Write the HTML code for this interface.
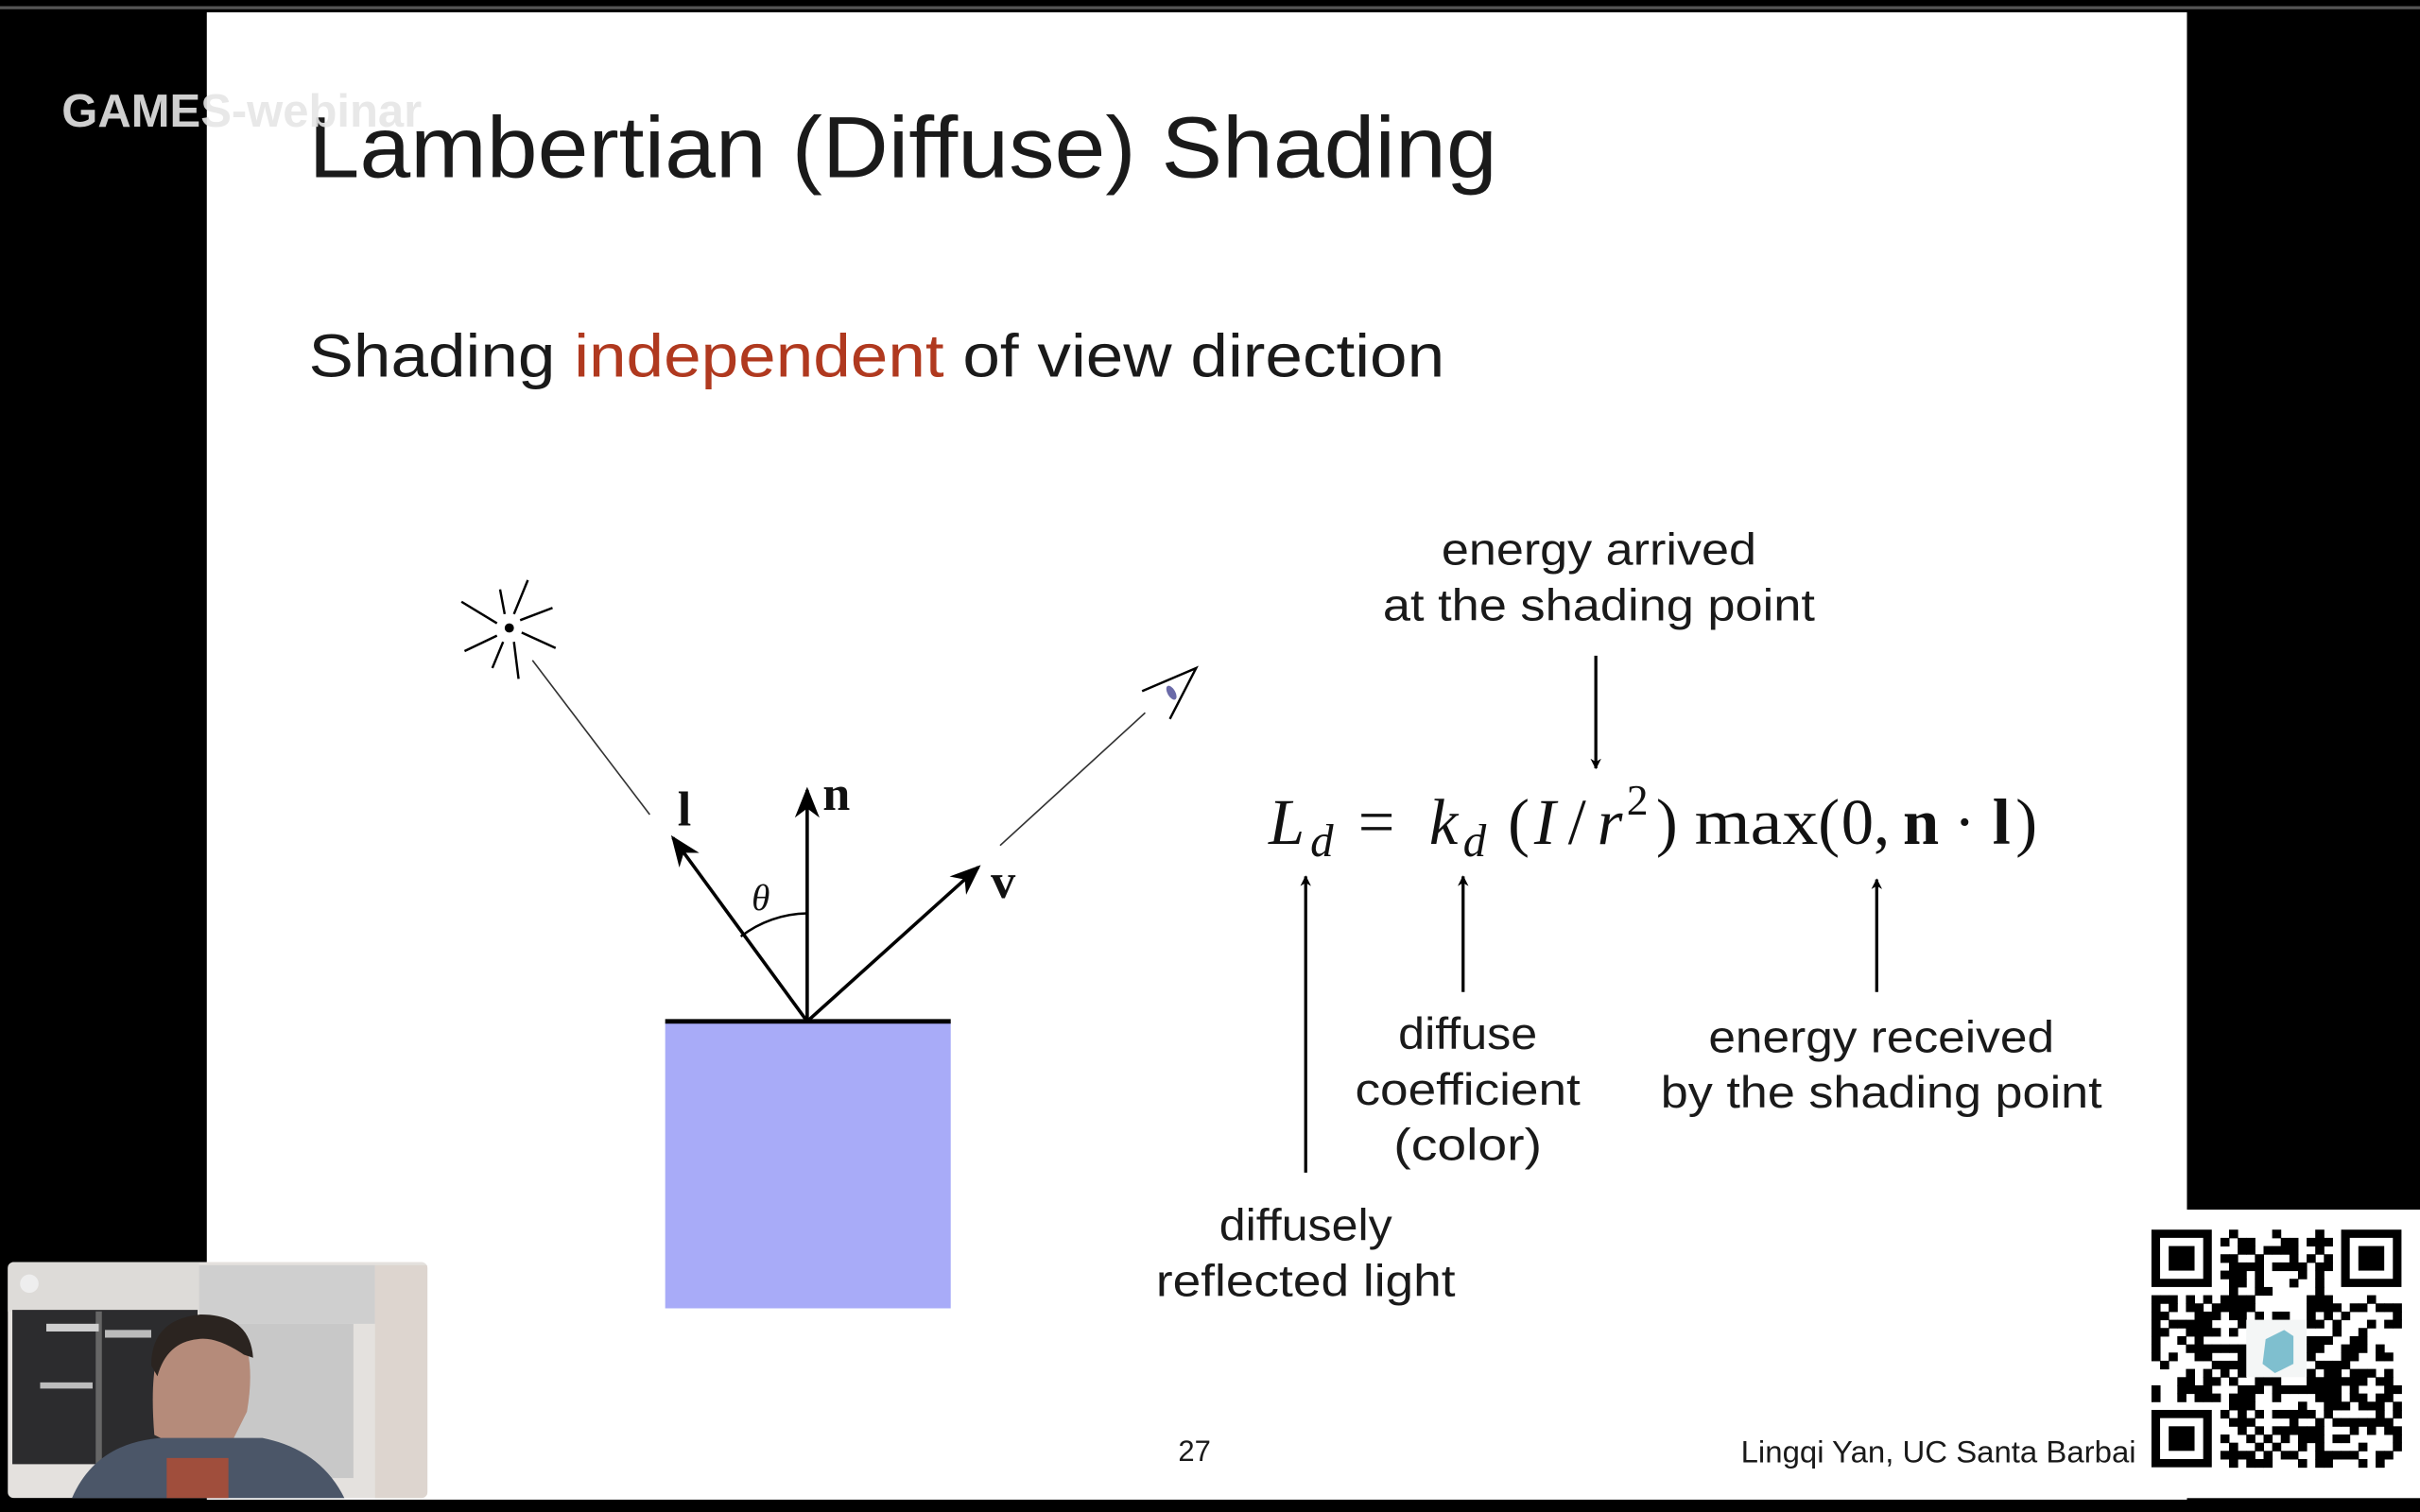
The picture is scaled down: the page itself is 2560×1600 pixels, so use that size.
<!DOCTYPE html>
<html><head><meta charset="utf-8">
<style>
html,body{margin:0;padding:0;background:#000;width:2560px;height:1600px;overflow:hidden}
svg{display:block}
.g{font-family:"Liberation Sans Narrow","Liberation Sans",sans-serif;fill:#1a1a1a}
.s{font-family:"Liberation Serif",serif;fill:#111}
</style></head><body>
<svg id="sv" width="2560" height="1600" viewBox="0 0 1568 980" preserveAspectRatio="none" xmlns="http://www.w3.org/2000/svg">
<defs>
<marker id="ah" viewBox="0 0 10 10" refX="9" refY="5" markerWidth="7" markerHeight="7" orient="auto" markerUnits="userSpaceOnUse">
<path d="M0,0 L10,5 L0,10 L3,5 z" fill="#000"/></marker>
<marker id="ah2" viewBox="0 0 10 10" refX="9" refY="5" markerWidth="20" markerHeight="20" orient="auto" markerUnits="userSpaceOnUse">
<path d="M0,1 L10,5 L0,9 L3,5 z" fill="#000"/></marker>
<clipPath id="cc"><rect x="5" y="818" width="272" height="153" rx="4"/></clipPath>
</defs>
<rect x="0" y="0" width="1568" height="980" fill="#000"/>
<rect x="0" y="4" width="1568" height="2" fill="#555"/>
<rect x="134" y="8" width="1283" height="964" fill="#fff"/>
<rect x="1390" y="784" width="178" height="187" fill="#fff"/>

<text class="g" x="200" y="115" font-size="56" textLength="770" lengthAdjust="spacingAndGlyphs">Lambertian (Diffuse) Shading</text>
<text class="g" x="200" y="244" font-size="39" textLength="736" lengthAdjust="spacingAndGlyphs">Shading <tspan fill="#b0391f">independent</tspan> of view direction</text>

<g stroke="#000" stroke-width="1.5">
<line x1="337" y1="402" x2="358" y2="394"/><line x1="338" y1="410" x2="360" y2="420"/>
<line x1="333" y1="398" x2="342" y2="376"/><line x1="327" y1="398" x2="324" y2="382"/>
<line x1="322" y1="404" x2="299" y2="390"/><line x1="322" y1="412" x2="301" y2="422"/>
<line x1="326" y1="416" x2="319" y2="433"/><line x1="333" y1="416" x2="336" y2="440"/>
</g>
<circle cx="330" cy="407" r="3" fill="#000"/>
<line x1="345" y1="428" x2="421" y2="528" stroke="#333" stroke-width="1"/>
<line x1="648" y1="548" x2="742" y2="462" stroke="#333" stroke-width="1"/>
<path d="M740,448 L775,433 L758,466" fill="none" stroke="#000" stroke-width="1.5"/>
<ellipse cx="759" cy="449" rx="2.5" ry="5" fill="#6a6aa8" transform="rotate(-30 759 449)"/>

<g stroke="#000" stroke-width="2.2" fill="none">
<line x1="523" y1="662" x2="436" y2="543" marker-end="url(#ah2)"/>
<line x1="523" y1="662" x2="523" y2="512" marker-end="url(#ah2)"/>
<line x1="523" y1="662" x2="634" y2="562" marker-end="url(#ah2)"/>
</g>
<path d="M480,607 A72,72 0 0 1 523,592" fill="none" stroke="#000" stroke-width="1.5"/>
<text class="s" x="439" y="535" font-size="32" font-weight="bold">l</text>
<text class="s" x="533" y="525" font-size="32" font-weight="bold">n</text>
<text class="s" x="642" y="582" font-size="32" font-weight="bold">v</text>
<text class="s" x="487" y="590" font-size="24" font-style="italic">θ</text>

<rect x="431" y="663" width="185" height="185" fill="#a8abf8"/>
<line x1="431" y1="662" x2="616" y2="662" stroke="#000" stroke-width="3"/>

<g class="s" font-size="42">
<text x="822" y="547" font-style="italic">L</text>
<text x="849" y="555" font-size="30" font-style="italic">d</text>
<text x="880" y="547">=</text>
<text x="926" y="547" font-style="italic">k</text>
<text x="948" y="555" font-size="30" font-style="italic">d</text>
<text x="977" y="547">(</text>
<text x="994" y="547" font-style="italic">I</text>
<text x="1016" y="547">/</text>
<text x="1035" y="547" font-style="italic">r</text>
<text x="1054" y="528" font-size="28">2</text>
<text x="1073" y="547">)</text>
<text x="1098" y="547" textLength="80" lengthAdjust="spacingAndGlyphs">max</text>
<text x="1178" y="547">(</text>
<text x="1193" y="547">0,</text>
<text x="1233" y="547" font-weight="bold">n</text>
<text x="1266" y="547">·</text>
<text x="1291" y="547" font-weight="bold">l</text>
<text x="1306" y="547">)</text>
</g>

<g stroke="#000" stroke-width="2">
<line x1="1034" y1="425" x2="1034" y2="498" marker-end="url(#ah)"/>
<line x1="846" y1="760" x2="846" y2="568" marker-end="url(#ah)"/>
<line x1="948" y1="643" x2="948" y2="568" marker-end="url(#ah)"/>
<line x1="1216" y1="643" x2="1216" y2="570" marker-end="url(#ah)"/>
</g>

<g class="g" font-size="29" text-anchor="middle">
<text x="1036" y="366" textLength="204" lengthAdjust="spacingAndGlyphs">energy arrived</text>
<text x="1036" y="402" textLength="280" lengthAdjust="spacingAndGlyphs">at the shading point</text>
<text x="951" y="680" textLength="90" lengthAdjust="spacingAndGlyphs">diffuse</text>
<text x="951" y="716" textLength="146" lengthAdjust="spacingAndGlyphs">coefficient</text>
<text x="951" y="752" textLength="96" lengthAdjust="spacingAndGlyphs">(color)</text>
<text x="1219" y="682" textLength="224" lengthAdjust="spacingAndGlyphs">energy received</text>
<text x="1219" y="718" textLength="286" lengthAdjust="spacingAndGlyphs">by the shading point</text>
<text x="846" y="804" textLength="112" lengthAdjust="spacingAndGlyphs">diffusely</text>
<text x="846" y="840" textLength="194" lengthAdjust="spacingAndGlyphs">reflected light</text>
</g>
<text class="g" x="774" y="947" font-size="19" text-anchor="middle">27</text>
<text class="g" x="1128" y="948" font-size="20" textLength="256" lengthAdjust="spacingAndGlyphs">Lingqi Yan, UC Santa Barbai</text>

<g id="qr"></g>

<!-- webcam -->
<g clip-path="url(#cc)">
<rect x="5" y="818" width="272" height="153" fill="#e4e1de"/>
<rect x="5" y="818" width="124" height="32" fill="#dddbd8"/>
<rect x="8" y="849" width="120" height="100" fill="#2c2c2e"/>
<rect x="62" y="850" width="4" height="100" fill="#666"/>
<rect x="30" y="858" width="34" height="5" fill="#cfcfcf"/>
<rect x="68" y="862" width="30" height="5" fill="#bbb"/>
<rect x="26" y="896" width="34" height="4" fill="#bdbdbd"/>
<rect x="129" y="820" width="114" height="38" fill="#cfcfcf"/>
<rect x="129" y="858" width="100" height="100" fill="#c8c8c8"/>
<rect x="243" y="820" width="34" height="151" fill="#ddd5cf"/>
<path d="M100,930 Q96,880 108,866 Q130,852 155,862 Q166,880 160,915 L150,935 L110,935 Z" fill="#b58b7a"/>
<path d="M98,885 Q98,855 130,852 Q162,852 164,880 L158,878 Q140,866 128,868 Q108,870 102,892 Z" fill="#2b2420"/>
<path d="M45,975 Q60,935 105,932 L170,932 Q210,940 225,975 Z" fill="#4b5668"/>
<rect x="108" y="945" width="40" height="30" fill="#a04e3c"/>
<circle cx="19" cy="832" r="6" fill="#eee"/>
</g>

<text x="40" y="82" font-family="Liberation Sans, sans-serif" font-weight="bold" font-size="30" fill="#e6e6e6" opacity="0.9">GAMES-webinar</text>
</svg>
<script>
(function(){
var g=document.getElementById('qr'),ns='http://www.w3.org/2000/svg';
var x0=1394,y0=797,n=29,w=162/29,h=154/29,s=12345;
function r(){s=(s*1103515245+12345)&0x7fffffff;return s/0x7fffffff;}
function R(x,y,ww,hh,c){var e=document.createElementNS(ns,'rect');e.setAttribute('x',x);e.setAttribute('y',y);e.setAttribute('width',ww);e.setAttribute('height',hh);e.setAttribute('fill',c);g.appendChild(e);}
function fin(i,j){R(x0+i*w,y0+j*h,7*w,7*h,'#000');R(x0+(i+1)*w,y0+(j+1)*h,5*w,5*h,'#fff');R(x0+(i+2)*w,y0+(j+2)*h,3*w,3*h,'#000');}
for(var j=0;j<n;j++)for(var i=0;i<n;i++){
 if((i<8&&j<8)||(i>n-9&&j<8)||(i<8&&j>n-9))continue;
 if(i>=11&&i<=17&&j>=11&&j<=17)continue;
 if(r()<0.5)R(x0+i*w,y0+j*h,w+0.3,h+0.3,'#000');}
fin(0,0);fin(n-7,0);fin(0,n-7);
R(x0+11*w,y0+11*h,7*w,7*h,'#f4f6f6');
var p=document.createElementNS(ns,'path');p.setAttribute('d','M1468,868 L1480,862 L1486,866 L1486,884 L1474,890 L1466,884 Z');p.setAttribute('fill','#7fbfcf');g.appendChild(p);
})();
</script>
</body></html>
